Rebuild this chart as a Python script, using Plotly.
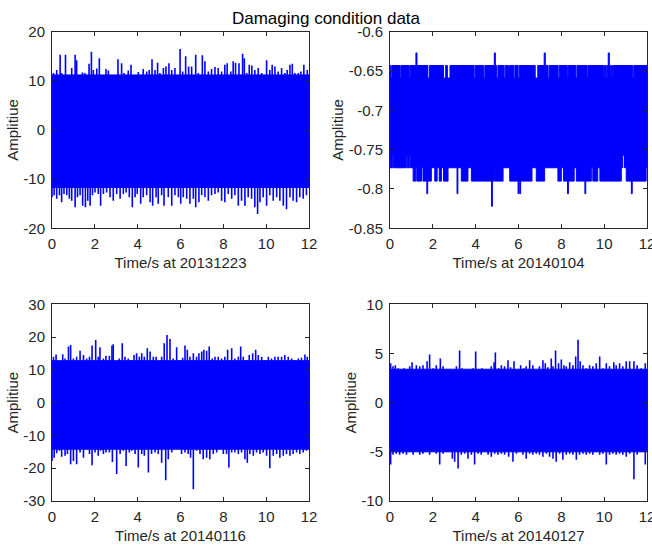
import plotly.graph_objects as go

# ---------------- data ----------------
x_ticks = [0, 2, 4, 6, 8, 10, 12]
x_labels = ["0", "2", "4", "6", "8", "10", "12"]
dates = ["20131223", "20140104", "20140116", "20140127"]

# Panel 1 (20131223)
p1_yticks = [-20, -10, 0, 10, 20]
p1_ylabels = ["-20", "-10", "0", "10", "20"]
p1_core = [-11.7, 11.2]
p1_up_t = [0.07, 0.22, 0.38, 0.45, 0.63, 0.77, 0.92, 1.08, 1.15, 1.31, 1.42, 1.54, 1.73, 1.84, 1.93, 2.09,
           2.21, 2.32, 2.52, 2.63, 2.79, 2.94, 3.08, 3.25, 3.36, 3.56, 3.69, 3.80, 4.03, 4.26, 4.42, 4.54,
           4.67, 4.81, 4.93, 5.04, 5.20, 5.32, 5.46, 5.59, 5.74, 5.98, 6.10, 6.24, 6.38, 6.52, 6.71, 6.83,
           7.02, 7.14, 7.30, 7.45, 7.61, 7.76, 7.92, 8.07, 8.18, 8.35, 8.46, 8.57, 8.73, 8.90, 8.98, 9.09,
           9.21, 9.33, 9.47, 9.63, 9.79, 10.02, 10.17, 10.28, 10.41, 10.56, 10.72, 10.87, 10.98, 11.11,
           11.22, 11.34, 11.50, 11.62, 11.76, 11.92]
p1_up_v = [11.6, 12.2, 15.3, 11.6, 15.3, 10.5, 12.6, 15.3, 14.2, 10.9, 11.7, 11.6, 13.5, 15.9, 12.2, 12.5,
           14.6, 10.9, 12.4, 12.1, 10.9, 11.2, 14.4, 13.6, 11.6, 12.1, 13.3, 11.2, 11.8, 12.4, 11.9, 12.2,
           14.4, 12.2, 13.7, 11.6, 12.6, 12.9, 13.6, 12.2, 12.6, 16.5, 11.9, 15.0, 12.9, 12.9, 15.3, 11.6,
           15.2, 14.0, 11.9, 12.4, 12.8, 12.6, 11.9, 13.3, 13.6, 11.9, 14.0, 13.7, 13.6, 15.5, 14.6, 11.6,
           13.3, 13.1, 12.2, 12.6, 11.6, 14.2, 12.2, 13.3, 12.9, 11.9, 12.6, 11.6, 12.2, 13.3,
           13.5, 11.6, 11.6, 11.9, 13.3, 12.2]
p1_dn_t = [0.00, 0.10, 0.22, 0.35, 0.45, 0.56, 0.69, 0.81, 0.92, 1.08, 1.19, 1.31, 1.43, 1.56, 1.67, 1.78,
           1.89, 2.01, 2.16, 2.27, 2.40, 2.55, 2.71, 2.86, 3.02, 3.18, 3.33, 3.46, 3.61, 3.75, 3.88, 3.98,
           4.14, 4.26, 4.42, 4.58, 4.70, 4.86, 4.96, 5.12, 5.23, 5.43, 5.59, 5.74, 5.90, 6.01, 6.13, 6.29,
           6.44, 6.60, 6.71, 6.86, 6.99, 7.14, 7.30, 7.45, 7.61, 7.76, 7.92, 8.07, 8.23, 8.39, 8.54, 8.70,
           8.85, 9.01, 9.16, 9.32, 9.47, 9.60, 9.71, 9.86, 10.02, 10.17, 10.33, 10.49, 10.64, 10.80,
           10.95, 11.11, 11.26, 11.42, 11.57, 11.73, 11.88]
p1_dn_v = [-13.7, -13.3, -14.0, -13.3, -14.7, -13.0, -13.3, -14.0, -14.4, -15.7, -13.7, -13.3, -15.4, -15.7,
           -14.4, -15.4, -13.3, -12.7, -13.0, -15.4, -13.0, -12.7, -13.7, -14.4, -13.0, -14.0, -13.0, -12.7,
           -13.7, -15.7, -13.7, -13.0, -15.0, -13.7, -13.3, -14.7, -15.4, -13.7, -15.0, -13.3, -15.4, -13.7,
           -15.4, -13.3, -13.7, -15.0, -13.7, -14.0, -15.0, -14.0, -15.7, -14.7, -13.3, -13.7, -14.4, -13.3,
           -13.0, -12.7, -14.4, -14.7, -13.0, -14.0, -13.3, -15.4, -14.4, -15.4, -13.7, -14.0, -15.7, -17.1,
           -14.7, -13.7, -15.4, -13.3, -14.4, -13.7, -14.4, -15.4, -16.1, -13.7, -14.4, -14.7, -13.7, -14.0,
           -13.3]

# Panel 2 (20140104) - quantised signal, step envelopes (time, level)
p2_yticks = [-0.85, -0.8, -0.75, -0.7, -0.65, -0.6]
p2_ylabels = ["-0.85", "-0.8", "-0.75", "-0.7", "-0.65", "-0.6"]
p2_top_t = [0, 0.05, 0.09, 0.47, 0.51, 0.9, 0.94, 1.21, 1.26, 1.77, 1.85, 2.5, 2.6, 2.68, 2.8, 3.93, 3.98,
            4.38, 4.43, 4.87, 4.92, 4.98, 5.04, 5.33, 5.38, 5.53, 5.58, 5.78, 5.83, 5.98, 6.03, 6.78, 6.9,
            7.2, 7.25, 7.38, 7.43, 7.85, 7.9, 8.28, 8.33, 8.68, 8.73, 9.2, 9.24, 9.98, 10.02, 10.1, 10.14,
            10.19, 10.24, 10.3, 10.34, 10.4, 10.44, 11.33, 11.38, 12]
p2_top_v = [-0.643, -0.659, -0.643, -0.659, -0.643, -0.659, -0.643, -0.627, -0.643, -0.659, -0.643,
            -0.659, -0.643, -0.659, -0.643, -0.659, -0.643, -0.659, -0.643, -0.627, -0.643, -0.659, -0.643,
            -0.659, -0.643, -0.659, -0.643, -0.659, -0.643, -0.659, -0.643, -0.659, -0.643, -0.627, -0.643,
            -0.659, -0.643, -0.659, -0.643, -0.659, -0.643, -0.659, -0.643, -0.659, -0.643, -0.659, -0.643,
            -0.659, -0.643, -0.627, -0.643, -0.659, -0.643, -0.659, -0.643, -0.659, -0.643, -0.643]
p2_bot_t = [0, 0.13, 0.17, 0.76, 0.8, 0.9, 0.94, 1.08, 1.2, 1.25, 1.47, 1.54, 1.72, 1.76, 1.93, 2.09, 2.2,
            2.3, 2.4, 2.5, 2.71, 3.13, 3.17, 3.33, 3.64, 3.80, 4.74, 4.78, 4.86, 4.89, 5.28, 5.59, 5.98,
            6.02, 6.06, 6.1, 6.63, 6.83, 7.22, 7.84, 8.0, 8.1, 8.29, 8.33, 8.6, 8.7, 9.1, 9.14, 9.4, 9.47,
            9.7, 9.8, 10.8, 10.87, 10.95, 11.03, 11.27, 11.31, 11.96, 12]
p2_bot_v = [-0.773, -0.757, -0.773, -0.757, -0.773, -0.757, -0.773, -0.790, -0.773, -0.790, -0.773,
            -0.790, -0.806, -0.790, -0.773, -0.790, -0.773, -0.790, -0.773, -0.790, -0.773, -0.806, -0.773,
            -0.790, -0.773, -0.790, -0.822, -0.790, -0.773, -0.790, -0.773, -0.790, -0.806, -0.790, -0.806,
            -0.790, -0.773, -0.790, -0.773, -0.790, -0.773, -0.790, -0.806, -0.790, -0.773, -0.790, -0.806,
            -0.790, -0.773, -0.790, -0.773, -0.790, -0.773, -0.757, -0.773, -0.790, -0.806, -0.790, -0.773,
            -0.773]

# Panel 3 (20140116)
p3_yticks = [-30, -20, -10, 0, 10, 20, 30]
p3_ylabels = ["-30", "-20", "-10", "0", "10", "20", "30"]
p3_core = [-14.2, 12.8]
p3_up_t = [0.07, 0.19, 0.35, 0.50, 0.61, 0.77, 0.87, 1.00, 1.15, 1.31, 1.47, 1.62, 1.75, 1.87, 2.04, 2.16,
           2.24, 2.40, 2.52, 2.68, 2.80, 2.86, 2.99, 3.14, 3.28, 3.41, 3.56, 3.72, 3.83, 3.95, 4.08, 4.19,
           4.31, 4.45, 4.58, 4.73, 4.86, 5.01, 5.12, 5.24, 5.37, 5.51, 5.66, 5.82, 5.97, 6.10, 6.21, 6.32,
           6.44, 6.60, 6.75, 6.86, 6.99, 7.09, 7.22, 7.34, 7.48, 7.61, 7.76, 7.92, 8.07, 8.20, 8.39, 8.54,
           8.70, 8.81, 8.93, 9.09, 9.21, 9.37, 9.51, 9.63, 9.79, 9.94, 10.10, 10.25, 10.41, 10.56, 10.72,
           10.87, 11.03, 11.19, 11.34, 11.50, 11.65, 11.81, 11.92]
p3_up_v = [14.0, 14.7, 11.0, 14.8, 13.5, 17.1, 17.6, 13.5, 14.0, 15.8, 14.5, 13.5, 14.0, 17.4, 19.1, 14.0,
           16.9, 13.5, 14.3, 14.3, 17.4, 17.8, 12.5, 13.5, 18.1, 14.0, 13.5, 13.0, 14.5, 15.1, 14.0, 15.1,
           14.0, 16.6, 15.6, 14.0, 14.0, 12.0, 14.0, 18.1, 20.6, 19.4, 13.5, 16.9, 13.0, 13.7, 17.4, 16.1,
           14.0, 15.1, 14.0, 15.1, 15.6, 16.1, 15.8, 17.1, 13.5, 14.0, 14.0, 13.5, 14.0, 16.1, 16.6, 13.5,
           14.0, 17.1, 14.0, 13.0, 14.5, 15.1, 16.1, 14.5, 14.0, 13.0, 14.0, 13.5, 14.0, 14.0, 14.0,
           14.5, 14.0, 13.5, 13.0, 13.5, 13.7, 14.7, 14.0]
p3_dn_t = [0.00, 0.10, 0.22, 0.35, 0.45, 0.61, 0.72, 0.87, 1.00, 1.15, 1.31, 1.47, 1.62, 1.75, 1.87, 2.01,
           2.16, 2.27, 2.40, 2.52, 2.68, 2.82, 3.02, 3.18, 3.33, 3.46, 3.61, 3.72, 3.88, 4.03, 4.19, 4.31,
           4.50, 4.65, 4.81, 4.96, 5.12, 5.31, 5.43, 5.59, 5.74, 5.90, 6.05, 6.21, 6.36, 6.47, 6.60, 6.75,
           6.91, 7.06, 7.22, 7.37, 7.53, 7.69, 7.84, 8.00, 8.15, 8.26, 8.39, 8.54, 8.70, 8.85, 9.01, 9.12,
           9.24, 9.40, 9.55, 9.71, 9.86, 10.02, 10.17, 10.33, 10.49, 10.64, 10.80, 10.95, 11.11, 11.26,
           11.42, 11.57, 11.73, 11.88]
p3_dn_v = [-17.8, -16.8, -15.4, -14.7, -16.5, -16.2, -15.7, -18.8, -17.8, -18.8, -15.2, -16.8, -14.2, -15.7,
           -19.1, -15.2, -16.2, -14.7, -15.7, -15.2, -15.2, -18.1, -21.8, -15.7, -14.7, -19.3, -15.2, -14.7,
           -15.7, -19.8, -15.7, -16.2, -21.3, -15.7, -15.2, -15.7, -18.3, -23.7, -17.3, -15.2, -13.7, -13.7,
           -15.7, -15.2, -15.7, -16.8, -26.4, -14.7, -15.7, -17.3, -16.8, -17.3, -15.7, -15.2, -14.2, -15.7,
           -15.7, -19.8, -15.2, -15.2, -15.7, -15.2, -17.3, -18.3, -15.7, -16.2, -15.2, -15.7, -15.2, -16.2,
           -20.0, -16.2, -15.7, -16.8, -16.2, -15.7, -16.2, -15.7, -15.2, -15.7, -15.2, -14.7]

# Panel 4 (20140127)
p4_yticks = [-10, -5, 0, 5, 10]
p4_ylabels = ["-10", "-5", "0", "5", "10"]
p4_core = [-5.0, 3.4]
p4_up_t = [0.03, 0.14, 0.25, 0.38, 0.53, 0.66, 0.77, 0.92, 1.03, 1.23, 1.39, 1.54, 1.73, 1.85, 2.01, 2.16,
           2.35, 2.48, 2.63, 2.79, 2.94, 3.10, 3.25, 3.36, 3.49, 3.64, 3.77, 3.88, 4.00, 4.14, 4.29, 4.45,
           4.58, 4.73, 4.86, 4.92, 5.07, 5.20, 5.35, 5.51, 5.63, 5.79, 5.94, 6.10, 6.25, 6.36, 6.52, 6.67,
           6.83, 6.98, 7.14, 7.25, 7.37, 7.53, 7.61, 7.73, 7.87, 8.00, 8.12, 8.23, 8.39, 8.54, 8.67, 8.78,
           8.88, 9.01, 9.16, 9.32, 9.47, 9.63, 9.79, 9.94, 10.10, 10.25, 10.45, 10.56, 10.72, 10.87, 11.03,
           11.19, 11.39, 11.54, 11.73, 11.92]
p4_up_v = [4.0, 3.7, 3.8, 3.5, 3.4, 3.5, 3.3, 3.7, 4.1, 3.8, 3.7, 3.8, 4.2, 4.9, 3.5, 3.8,
           4.5, 3.7, 3.3, 3.2, 3.2, 3.7, 5.3, 3.5, 3.0, 2.8, 3.2, 3.5, 5.2, 3.2, 3.5, 3.3,
           3.3, 3.7, 4.1, 5.1, 3.5, 3.8, 3.7, 4.3, 3.6, 4.2, 3.3, 3.8, 3.5, 3.7, 4.3, 3.8,
           3.3, 3.7, 4.3, 4.0, 3.6, 4.5, 3.7, 5.3, 4.0, 4.4, 3.8, 3.7, 4.1, 3.8, 4.7, 6.4,
           4.2, 3.8, 3.5, 3.8, 3.7, 4.0, 4.7, 3.5, 4.0, 3.7, 4.1, 3.8, 4.0, 3.7, 4.2,
           4.2, 4.2, 3.8, 3.5, 4.0]
p4_dn_t = [0.03, 0.14, 0.29, 0.45, 0.61, 0.77, 0.92, 1.08, 1.23, 1.39, 1.54, 1.70, 1.85, 2.01, 2.16, 2.32,
           2.48, 2.63, 2.79, 2.91, 3.02, 3.18, 3.33, 3.49, 3.64, 3.80, 3.95, 4.11, 4.26, 4.42, 4.58, 4.73,
           4.89, 5.04, 5.20, 5.35, 5.54, 5.74, 5.90, 6.05, 6.21, 6.36, 6.52, 6.67, 6.83, 6.98, 7.14, 7.30,
           7.45, 7.61, 7.76, 7.92, 8.07, 8.23, 8.39, 8.54, 8.70, 8.85, 9.01, 9.16, 9.32, 9.47, 9.63, 9.79,
           9.94, 10.10, 10.25, 10.41, 10.56, 10.72, 10.87, 11.03, 11.19, 11.39, 11.54, 11.73, 11.92]
p4_dn_v = [-6.3, -5.3, -5.2, -5.3, -5.2, -5.3, -5.0, -5.3, -4.8, -5.3, -5.2, -5.0, -5.3, -4.8, -5.2, -6.3,
           -5.2, -5.0, -4.8, -5.7, -6.0, -6.7, -5.3, -5.2, -5.7, -5.3, -6.3, -5.2, -5.3, -4.8, -5.3, -5.5,
           -5.2, -5.3, -5.2, -5.3, -5.5, -6.0, -5.2, -5.0, -5.3, -5.7, -5.2, -5.3, -5.2, -5.3, -5.5, -5.2,
           -5.5, -5.7, -6.0, -5.2, -5.8, -5.3, -5.2, -5.3, -5.8, -5.3, -5.2, -5.3, -5.2, -5.3, -5.0, -5.3,
           -5.2, -6.3, -5.3, -5.2, -5.3, -5.2, -5.3, -5.5, -5.2, -7.8, -5.3, -5.0, -6.3]

# ---------------- figure ----------------
BLUE = "#0000ff"
INK = "#262626"
FONT = "Liberation Sans, Arial, sans-serif"
FS = 15

fig = go.Figure()


def spikes(ts, vs):
    xs, ys = [], []
    for t, v in zip(ts, vs):
        xs += [t, t, None]
        ys += [0, v, None]
    return xs, ys


def add_band(core, up_t, up_v, dn_t, dn_v, xa, ya):
    fig.add_trace(go.Scatter(x=[x_ticks[0], x_ticks[-1]], y=[core[0], core[0]], mode="lines",
                             line=dict(color=BLUE, width=1), xaxis=xa, yaxis=ya, hoverinfo="skip"))
    fig.add_trace(go.Scatter(x=[x_ticks[0], x_ticks[-1]], y=[core[1], core[1]], mode="lines",
                             fill="tonexty", fillcolor=BLUE,
                             line=dict(color=BLUE, width=1), xaxis=xa, yaxis=ya, hoverinfo="skip"))
    for ts, vs in ((up_t, up_v), (dn_t, dn_v)):
        sx, sy = spikes(ts, vs)
        fig.add_trace(go.Scatter(x=sx, y=sy, mode="lines", line=dict(color=BLUE, width=1.6),
                                 xaxis=xa, yaxis=ya, hoverinfo="skip"))


add_band(p1_core, p1_up_t, p1_up_v, p1_dn_t, p1_dn_v, "x", "y")
add_band(p3_core, p3_up_t, p3_up_v, p3_dn_t, p3_dn_v, "x3", "y3")
add_band(p4_core, p4_up_t, p4_up_v, p4_dn_t, p4_dn_v, "x4", "y4")

# panel 2: fill between step envelopes
fig.add_trace(go.Scatter(x=p2_bot_t, y=p2_bot_v, mode="lines", line=dict(color=BLUE, width=1, shape="hv"),
                         xaxis="x2", yaxis="y2", hoverinfo="skip"))
fig.add_trace(go.Scatter(x=p2_top_t, y=p2_top_v, mode="lines", line=dict(color=BLUE, width=1, shape="hv"),
                         fill="tonexty", fillcolor=BLUE, xaxis="x2", yaxis="y2", hoverinfo="skip"))

W, H = 652, 546
col_x = [(52, 309), (390, 647)]
row_y = [(31.7, 228.3), (304.3, 501.0)]


def xd(c):
    return [col_x[c][0] / W, col_x[c][1] / W]


def yd(r):
    return [1 - row_y[r][1] / H, 1 - row_y[r][0] / H]


def ax_common():
    return dict(showline=True, linecolor=INK, linewidth=1, mirror="ticks", ticks="inside", ticklen=4,
                tickcolor=INK, tickwidth=1, showgrid=False, zeroline=False, automargin=False,
                ticklabeloverflow="allow",
                tickfont=dict(family=FONT, size=FS, color=INK))


yspecs = [(p1_yticks, p1_ylabels), (p2_yticks, p2_ylabels), (p3_yticks, p3_ylabels), (p4_yticks, p4_ylabels)]
layout = {}
for i in range(4):
    r, c = divmod(i, 2)
    sfx = "" if i == 0 else str(i + 1)
    xa = ax_common()
    xa.update(domain=xd(c), anchor="y" + sfx, range=[x_ticks[0], x_ticks[-1]], tickvals=x_ticks,
              ticktext=x_labels, ticklabelstandoff=2,
              title=dict(text="Time/s at " + dates[i], font=dict(family=FONT, size=FS, color=INK), standoff=6))
    ya = ax_common()
    yt, yl = yspecs[i]
    ya.update(domain=yd(r), anchor="x" + sfx, range=[yt[0], yt[-1]], tickvals=yt, ticktext=yl,
              ticklabelstandoff=3,
              title=dict(text="Amplitiue", font=dict(family=FONT, size=FS, color=INK), standoff=1))
    layout["xaxis" + sfx] = xa
    layout["yaxis" + sfx] = ya

fig.update_layout(**layout)
fig.update_layout(
    width=W, height=H, showlegend=False,
    paper_bgcolor="white", plot_bgcolor="white",
    margin=dict(l=0, r=0, t=0, b=0),
    title=dict(text="Damaging condition data", x=0.5, xanchor="center", y=1 - 18 / H, yanchor="middle",
               font=dict(family=FONT, size=17, color="black")),
)
fig.write_html("out.html", config={"displayModeBar": False},
               post_script="document.body.style.margin='0';document.body.style.overflow='hidden';")
